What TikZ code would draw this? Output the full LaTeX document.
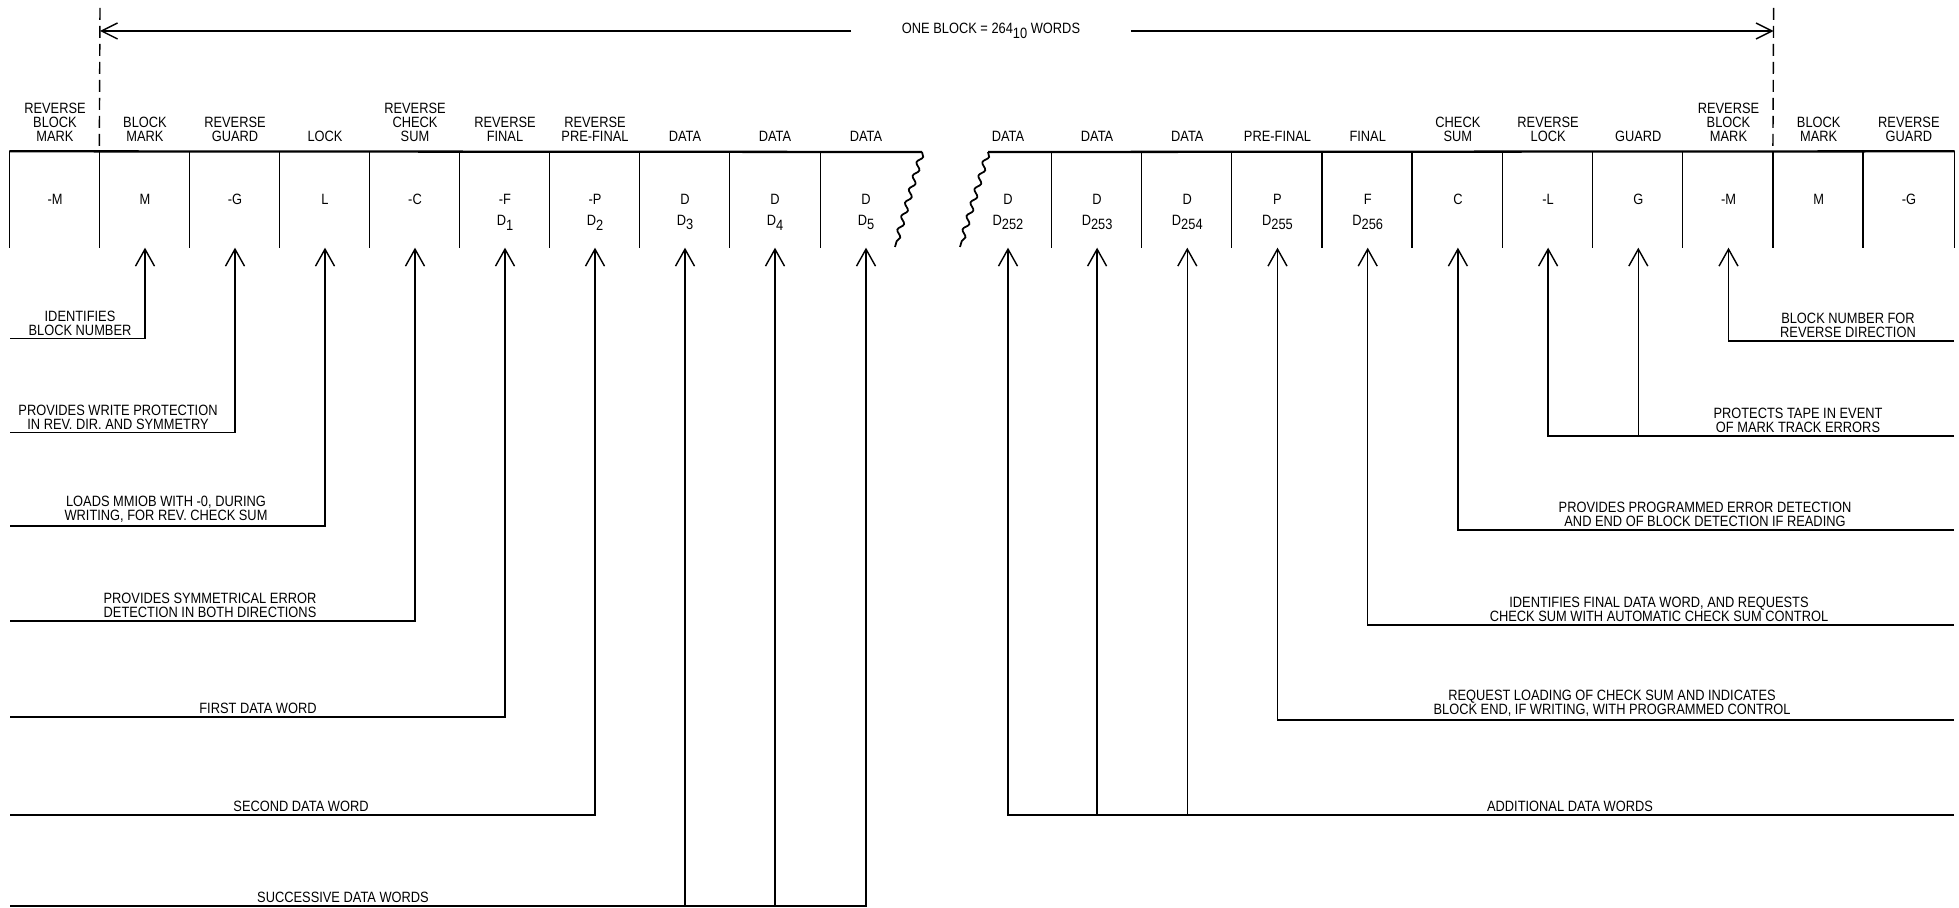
\documentclass[tikz,border=0pt]{standalone}
\usepackage{fontspec}
\setmainfont{Liberation Sans}[FakeStretch=0.86]
\usetikzlibrary{arrows.meta,positioning,decorations.pathmorphing}
\newcommand{\lowidx}[1]{\raisebox{-0.6ex}{#1}}

\begin{document}
\begin{tikzpicture}[x=0.2mm, y=-0.2mm, line width=0.8pt,
  font=\fontsize{8.5}{8}\selectfont,
  cell/.style={minimum width=18mm, minimum height=19mm, inner sep=0pt},
  cellr/.style={cell, minimum width=18.04mm},
  toplbl/.style={align=center, inner sep=0pt},
  wordix/.style={inner sep=0pt},
  note/.style={align=center, anchor=south, inner sep=0pt},
  lead/.style={-{Straight Barb[length=3.4mm, width=3.8mm]}},
  dimarr/.style={-{Straight Barb[length=3.2mm, width=3.2mm]}},
  tornedge/.style={decorate, line width=1pt,
    decoration={snake, amplitude=0.5mm, segment length=2.8mm}}]
\useasboundingbox (0,0) rectangle (1959,908);
% Left part of the tape
\node[cell] (c0) at (55,199.5)  {-M};
\node[cell] (c1) at (145,199.5) {M};
\node[cell] (c2) at (235,199.5) {-G};
\node[cell] (c3) at (325,199.5) {L};
\node[cell] (c4) at (415,199.5) {-C};
\node[cell] (c5) at (505,199.5) {-F};
\node[cell] (c6) at (595,199.5) {-P};
\node[cell] (c7) at (685,199.5) {D};
\node[cell] (c8) at (775,199.5) {D};
\node[cell] (c9) at (866,199.5) {D};
% Right part of the tape
\node[cell]  (r0)  at (1008,199.5)   {D};
\node[cellr] (r1)  at (1097.1,199.5) {D};
\node[cellr] (r2)  at (1187.3,199.5) {D};
\node[cellr] (r3)  at (1277.5,199.5) {P};
\node[cellr] (r4)  at (1367.7,199.5) {F};
\node[cellr] (r5)  at (1457.9,199.5) {C};
\node[cellr] (r6)  at (1548.1,199.5) {-L};
\node[cellr] (r7)  at (1638.3,199.5) {G};
\node[cellr] (r8)  at (1728.5,199.5) {-M};
\node[cellr] (r9)  at (1818.7,199.5) {M};
\node[cellr] (r10) at (1908.9,199.5) {-G};
% Word names above the tape
\node[toplbl, above=1.8mm of c0] (t0) {REVERSE\\BLOCK\\MARK};
\node[toplbl, above=1.8mm of c1] (t1) {BLOCK\\MARK};
\node[toplbl, above=1.8mm of c2] (t2) {REVERSE\\GUARD};
\node[toplbl, above=1.8mm of c3] (t3) {LOCK};
\node[toplbl, above=1.8mm of c4] (t4) {REVERSE\\CHECK\\SUM};
\node[toplbl, above=1.8mm of c5] (t5) {REVERSE\\FINAL};
\node[toplbl, above=1.8mm of c6] (t6) {REVERSE\\PRE-FINAL};
\node[toplbl, above=1.8mm of c7] (t7) {DATA};
\node[toplbl, above=1.8mm of c8] (t8) {DATA};
\node[toplbl, above=1.8mm of c9] (t9) {DATA};
\node[toplbl, above=1.8mm of r0] (u0) {DATA};
\node[toplbl, above=1.8mm of r1] (u1) {DATA};
\node[toplbl, above=1.8mm of r2] (u2) {DATA};
\node[toplbl, above=1.8mm of r3] (u3) {PRE-FINAL};
\node[toplbl, above=1.8mm of r4] (u4) {FINAL};
\node[toplbl, above=1.8mm of r5] (u5) {CHECK\\SUM};
\node[toplbl, above=1.8mm of r6] (u6) {REVERSE\\LOCK};
\node[toplbl, above=1.8mm of r7] (u7) {GUARD};
\node[toplbl, above=1.8mm of r8] (u8) {REVERSE\\BLOCK\\MARK};
\node[toplbl, above=1.8mm of r9] (u9) {BLOCK\\MARK};
\node[toplbl, above=1.8mm of r10] (u10) {REVERSE\\GUARD};
% Data word numbers
\node[wordix] (w1) at ([yshift=-4.6mm]c5.center) {D\lowidx{1}};
\node[wordix] (w2) at ([yshift=-4.6mm]c6.center) {D\lowidx{2}};
\node[wordix] (w3) at ([yshift=-4.6mm]c7.center) {D\lowidx{3}};
\node[wordix] (w4) at ([yshift=-4.6mm]c8.center) {D\lowidx{4}};
\node[wordix] (w5) at ([yshift=-4.6mm]c9.center) {D\lowidx{5}};
\node[wordix] (w252) at ([yshift=-4.6mm]r0.center) {D\lowidx{252}};
\node[wordix] (w253) at ([yshift=-4.6mm]r1.center) {D\lowidx{253}};
\node[wordix] (w254) at ([yshift=-4.6mm]r2.center) {D\lowidx{254}};
\node[wordix] (w255) at ([yshift=-4.6mm]r3.center) {D\lowidx{255}};
\node[wordix] (w256) at ([yshift=-4.6mm]r4.center) {D\lowidx{256}};
% Tape outline with torn ends
\coordinate (lbrk) at (922,152);
\coordinate (lbrkb) at (895,247);
\coordinate (rbrk) at (988,152);
\coordinate (rbrkb) at (960,247);
\draw[line width=1.3pt] (c0.north west) -- (lbrk);
\draw[line width=1.3pt] (rbrk) -- (r10.north east);
\draw[tornedge] (lbrk) -- (lbrkb);
\draw[tornedge] (rbrk) -- (rbrkb);
\foreach \c in {c0,c1,c2,c3,c4,c5,c6,c7,c8,c9,r1,r2,r3,r4,r5,r6,r7,r8,r9,r10}
  \draw (\c.north west) -- (\c.south west);
\draw (r10.north east) -- (r10.south east);
% Block length
\coordinate (dl) at (100,8);
\coordinate (dr) at (1773.6,8);
\draw[dash pattern=on 2.4mm off 1.2mm] (dl) -- (c1.north west);
\draw[dash pattern=on 2.4mm off 1.2mm] (dr) -- (r9.north west);
\node[inner xsep=10mm, inner ysep=0pt] (blk) at (991,31)
  {ONE BLOCK = 264\lowidx{10} WORDS};
\draw[dimarr] (blk.west) -- (dl |- blk);
\draw[dimarr] (blk.east) -- (dr |- blk);
% Leaders on the left
\coordinate (a1) at (10,338.6);
\coordinate (a2) at (10,432.5);
\coordinate (a3) at (10,526);
\coordinate (a4) at (10,621);
\coordinate (a5) at (10,717);
\coordinate (a6) at (10,815);
\coordinate (a7) at (10,906);
\draw[lead] (a1) -| (c1.south);
\draw[lead] (a2) -| (c2.south);
\draw[lead] (a3) -| (c3.south);
\draw[lead] (a4) -| (c4.south);
\draw[lead] (a5) -| (c5.south);
\draw[lead] (a6) -| (c6.south);
\draw[lead] (a7) -| (c9.south);
\draw[lead] (c7.south |- a7) -- (c7.south);
\draw[lead] (c8.south |- a7) -- (c8.south);
\node[note] (n1) at (80,336) {IDENTIFIES\\BLOCK NUMBER};
\node[note] (n2) at (118,430) {PROVIDES WRITE PROTECTION\\IN REV. DIR. AND SYMMETRY};
\node[note] (n3) at (166,523.5) {LOADS MMIOB WITH -0, DURING\\WRITING, FOR REV. CHECK SUM};
\node[note] (n4) at (210,618.5) {PROVIDES SYMMETRICAL ERROR\\DETECTION IN BOTH DIRECTIONS};
\node[note] (n5) at (258,714.5) {FIRST DATA WORD};
\node[note] (n6) at (301,812.5) {SECOND DATA WORD};
\node[note] (n7) at (343,903.5) {SUCCESSIVE DATA WORDS};
% Leaders on the right
\coordinate (b1) at (1954,341);
\coordinate (b2) at (1954,436);
\coordinate (b3) at (1954,530);
\coordinate (b4) at (1954,625);
\coordinate (b5) at (1954,720);
\coordinate (b6) at (1954,815);
\draw[lead] (b1) -| (r8.south);
\draw[lead] (b2) -| (r6.south);
\draw[lead] (r7.south |- b2) -- (r7.south);
\draw[lead] (b3) -| (r5.south);
\draw[lead] (b4) -| (r4.south);
\draw[lead] (b5) -| (r3.south);
\draw[lead] (b6) -| (r0.south);
\draw[lead] (r1.south |- b6) -- (r1.south);
\draw[lead] (r2.south |- b6) -- (r2.south);
\node[note] (m1) at (1848,338.5) {BLOCK NUMBER FOR\\REVERSE DIRECTION};
\node[note] (m2) at (1798,433.5) {PROTECTS TAPE IN EVENT\\OF MARK TRACK ERRORS};
\node[note] (m3) at (1705,527.5) {PROVIDES PROGRAMMED ERROR DETECTION\\AND END OF BLOCK DETECTION IF READING};
\node[note] (m4) at (1659,622.5) {IDENTIFIES FINAL DATA WORD, AND REQUESTS\\CHECK SUM WITH AUTOMATIC CHECK SUM CONTROL};
\node[note] (m5) at (1612,717.5) {REQUEST LOADING OF CHECK SUM AND INDICATES\\BLOCK END, IF WRITING, WITH PROGRAMMED CONTROL};
\node[note] (m6) at (1570,812.5) {ADDITIONAL DATA WORDS};
\end{tikzpicture}
\end{document}
